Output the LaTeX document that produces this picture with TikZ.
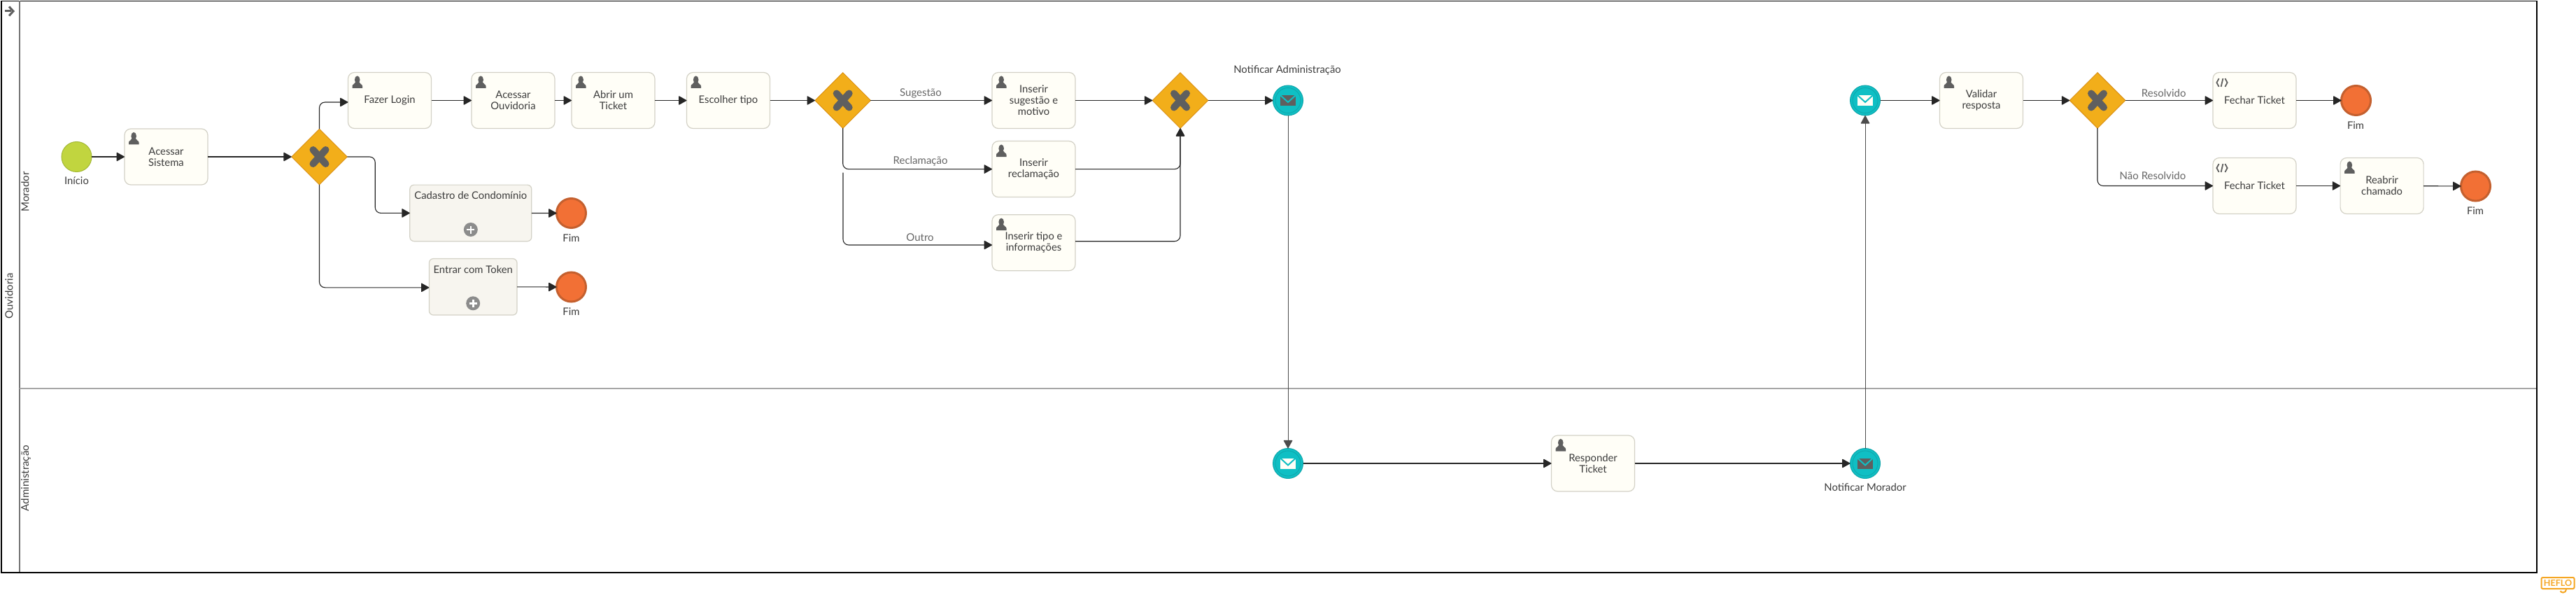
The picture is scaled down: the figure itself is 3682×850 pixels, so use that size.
\documentclass[tikz,border=0pt]{standalone}
\usepackage{fontspec}
\setmainfont{Lato}
\usetikzlibrary{arrows.meta,shapes.geometric,calc}
\definecolor{taskfill}{HTML}{FFFEF7}
\definecolor{taskline}{HTML}{D3D1C6}
\definecolor{subfill}{HTML}{F7F5EF}
\definecolor{gwfill}{HTML}{F2AE1A}
\definecolor{gwline}{HTML}{D98E10}
\definecolor{icongrey}{HTML}{5F5F5F}
\definecolor{endfill}{HTML}{F27035}
\definecolor{endline}{HTML}{C4602F}
\definecolor{evfill}{HTML}{0FBFC4}
\definecolor{evline}{HTML}{10A5AA}
\definecolor{startfill}{HTML}{C1D53F}
\definecolor{startline}{HTML}{A3B836}
\definecolor{txt}{HTML}{3C3C3C}
\definecolor{lbl}{HTML}{666666}
\definecolor{logo}{HTML}{F5A623}
\tikzset{
  txtfont/.style={font=\fontsize{14.8}{16}\selectfont,text=txt},
  taskbox/.style={draw=taskline,fill=taskfill,line width=1.2pt,rounded corners=9pt,minimum width=119pt,minimum height=80pt,inner sep=0pt,outer sep=0pt,align=center,txtfont},
  subbox/.style={draw=taskline,fill=subfill,line width=1.2pt,rounded corners=6pt,minimum height=80.5pt,inner sep=0pt,outer sep=0pt},
  gateway/.style={diamond,aspect=1,draw=gwline,fill=gwfill,line width=1pt,minimum width=79.5pt,minimum height=79.5pt,inner sep=0pt,outer sep=0pt},
  startev/.style={circle,draw=startline,fill=startfill,line width=1pt,minimum size=43pt,inner sep=0pt,outer sep=0pt},
  endev/.style={circle,draw=endline,fill=endfill,line width=3pt,minimum size=42pt,inner sep=0pt,outer sep=0pt},
  msgev/.style={circle,draw=evline,fill=evfill,line width=1pt,minimum size=43pt,inner sep=0pt,outer sep=0pt},
  flow/.style={draw=black!85,line width=1.1pt,rounded corners=8pt,-{Triangle[length=12pt,width=13pt,round=false]}},
  thinflow/.style={flow,draw=black!70,line width=0.9pt},
  lanelabel/.style={font=\fontsize{15}{16}\selectfont,text=txt,rotate=90,inner sep=0pt},
  evlabel/.style={txtfont,inner sep=0pt},
  flowlabel/.style={font=\fontsize{15}{16}\selectfont,text=lbl,inner sep=0pt},
  tasktitle/.style={txtfont,inner sep=0pt},
  gwmark/.style={draw=icongrey,line width=10pt,line cap=round},
}
\newcommand{\usericon}[1]{%
  \begin{scope}[shift={(#1.north west)}]
    \fill[icongrey] (13.2,10.5) ellipse (3.8pt and 5.6pt);
    \fill[icongrey] (6,22.5) -- (6,19.5) .. controls (6,16.5) and (10,17) .. (11,13.5) -- (15.5,13.5) .. controls (16.5,17) and (20.5,16.5) .. (20.5,19.5) -- (20.5,22.5) -- cycle;
  \end{scope}}
\newcommand{\scripticon}[1]{%
  \begin{scope}[shift={(#1.north west)},icongrey,line width=1.8pt]
    \draw (8.6,8.6) -- (5.4,14.5) -- (8.6,20.4);
    \draw (11.6,20.4) -- (14.4,8.6);
    \draw (17.4,8.6) -- (20.6,14.5) -- (17.4,20.4);
  \end{scope}}
\newcommand{\gwx}[1]{%
  \draw[gwmark] ([shift={(-9,-10)}]#1.center) -- ([shift={(9,10)}]#1.center);
  \draw[gwmark] ([shift={(-9,10)}]#1.center) -- ([shift={(9,-10)}]#1.center);}
\newcommand{\plusicon}[1]{%
  \fill[white!55!black] (#1) circle (10pt);
  \draw[white,line width=2.6pt] ([xshift=-5.5pt]#1) -- ([xshift=5.5pt]#1);
  \draw[white,line width=2.6pt] ([yshift=-5.5pt]#1) -- ([yshift=5.5pt]#1);}
\newcommand{\msgmark}[3]{% node, body colour, flap colour
  \draw[evline,line width=0.8pt] (#1.center) circle (18pt);
  \fill[#2] ([shift={(-11,-7.5)}]#1.center) rectangle ([shift={(11,7.5)}]#1.center);
  \draw[#3,line width=2pt] ([shift={(-11,-7.5)}]#1.center) -- ([shift={(0,2.5)}]#1.center) -- ([shift={(11,-7.5)}]#1.center);}
\begin{document}
\begin{tikzpicture}[x=1pt,y=-1pt]
\useasboundingbox (0,0) rectangle (3682,850);
% pool
\draw[black,line width=1.6pt] (2,1.5) rectangle (3626,818);
\draw[black!55,line width=2pt] (28,1.5) -- (28,817);
\draw[black!35,line width=1.3pt] (28,555) -- (3625,555);
\node[lanelabel] (pool) at (13,423) {Ouvidoria};
\node[lanelabel] (laneA) at (36,274) {Morador};
\node[lanelabel] (laneB) at (37,683) {Administração};
% collapse arrow of the pool
\draw[icongrey,line width=3pt] (6.5,16) -- (16,16);
\draw[icongrey,line width=3pt] (13,9.5) -- (19,16) -- (13,22.5);
% nodes
\node[startev] (start) at (109.5,224) {};
\node[evlabel] (startl) at (109.5,258) {Início};
\node[taskbox] (acessar) at (237.5,224) {Acessar\\Sistema};
\node[gateway] (g1) at (456.5,224) {};
\node[taskbox] (login) at (557,143.5) {Fazer Login};
\node[taskbox] (ouv) at (733.5,143.5) {Acessar\\Ouvidoria};
\node[taskbox] (abrir) at (876.5,143.5) {Abrir um\\Ticket};
\node[taskbox] (tipo) at (1041,143.5) {Escolher tipo};
\node[gateway] (g2) at (1204.7,143.5) {};
\node[taskbox] (sug) at (1477.5,143.5) {Inserir\\sugestão e\\motivo};
\node[taskbox] (rec) at (1477.5,241.6) {Inserir\\reclamação};
\node[taskbox] (out) at (1477.5,346.7) {Inserir tipo e\\informações};
\node[gateway] (g3) at (1687,143.5) {};
\node[msgev] (ntfa) at (1841,143.5) {};
\node[evlabel] (ntfal) at (1840,100.7) {Notificar Administração};
\node[subbox,minimum width=174pt] (cad) at (672.8,304.4) {};
\node[tasktitle] (cadt) at (672.8,278.7) {Cadastro de Condomínio};
\coordinate (cadp) at (672.8,328);
\node[endev] (cadend) at (816.5,304.5) {};
\node[evlabel] (cadendl) at (816.5,339.7) {Fim};
\node[subbox,minimum width=125.6pt] (tok) at (676.2,409.8) {};
\node[tasktitle] (tokt) at (676.2,384.7) {Entrar com Token};
\coordinate (tokp) at (676.2,433.3);
\node[endev] (tokend) at (816.5,410) {};
\node[evlabel] (tokendl) at (816.5,444.7) {Fim};
\node[msgev] (rcvm) at (2666,143.5) {};
\node[taskbox] (val) at (2832,143.5) {Validar\\resposta};
\node[gateway] (g4) at (2998,143.5) {};
\node[taskbox] (fec1) at (3222.5,143.5) {Fechar Ticket};
\node[endev] (end1) at (3367.5,143.5) {};
\node[evlabel] (end1l) at (3367,179) {Fim};
\node[taskbox] (fec2) at (3222.5,265.5) {Fechar Ticket};
\node[taskbox] (reab) at (3404.6,265.5) {Reabrir\\chamado};
\node[endev] (end2) at (3538.5,266) {};
\node[evlabel] (end2l) at (3538,301) {Fim};
\node[msgev] (rcva) at (1841,662) {};
\node[taskbox] (resp) at (2277,662) {Responder\\Ticket};
\node[msgev] (ntfm) at (2666,662) {};
\node[evlabel] (ntfml) at (2666,696) {Notificar Morador};
% flow labels
\node[flowlabel] (l1) at (1316,133) {Sugestão};
\node[flowlabel] (l2) at (1315.6,230) {Reclamação};
\node[flowlabel] (l3) at (1315,338.7) {Outro};
\node[flowlabel] (l4) at (3092.7,133) {Resolvido};
\node[flowlabel] (l5) at (3077,251) {Não Resolvido};
% flows
\draw[flow] (start) -- (acessar);
\draw[flow] (acessar) -- (g1);
\draw[flow] (g1.north) |- ([yshift=-2.5pt]login.west);
\draw[flow] (g1.east) -- ++(40,0) |- (cad.west);
\draw[flow] (g1.south) |- ([yshift=-1pt]tok.west);
\draw[flow] (login) -- (ouv);
\draw[flow] (ouv) -- (abrir);
\draw[flow] (abrir) -- (tipo);
\draw[flow] (tipo) -- (g2);
\draw[flow] (g2) -- (sug);
\draw[flow] (g2.south) |- (rec.west);
\coordinate (outstart) at (1205,246.7);
\draw[flow] (outstart) |- ([yshift=-3.3pt]out.west);
\draw[flow] (sug) -- (g3);
\draw[flow] (rec.east) -| (g3.south);
\draw[flow] (out.east) ++(0,-2) -| (g3.south);
\draw[flow] (g3) -- (ntfa);
\draw[thinflow] (ntfa) -- (rcva);
\draw[flow] (rcva) -- (resp);
\draw[flow] (resp) -- (ntfm);
\draw[thinflow] (ntfm) -- (rcvm);
\draw[flow] (rcvm) -- (val);
\draw[flow] (val) -- (g4);
\draw[flow] (g4) -- (fec1);
\draw[flow] (g4.south) |- (fec2.west);
\draw[flow] (fec1) -- (end1);
\draw[flow] (fec2) -- (reab);
\draw[flow] (reab) -- (end2);
\draw[flow] (cad) -- (cadend);
\draw[flow] (tok) -- (tokend);
% marks
\foreach \n in {acessar,login,ouv,abrir,tipo,sug,rec,out,val,reab,resp} {\usericon{\n}}
\scripticon{fec1}
\scripticon{fec2}
\gwx{g1}\gwx{g2}\gwx{g3}\gwx{g4}
\plusicon{cadp}
\plusicon{tokp}
\msgmark{ntfa}{icongrey}{evfill}
\msgmark{ntfm}{icongrey}{evfill}
\msgmark{rcvm}{taskfill}{evfill}
\msgmark{rcva}{taskfill}{evfill}
% brand mark
\node[draw=logo,line width=2pt,rounded corners=2pt,minimum width=47pt,minimum height=16pt,inner sep=0pt,text=logo,font=\fontsize{12.5}{13}\bfseries\selectfont] (brand) at (3656,833) {HEFLO};
\draw[logo,line width=2pt] ([xshift=12pt]brand.south) arc[start angle=0,end angle=-150,radius=4.5pt];
\end{tikzpicture}
\end{document}
